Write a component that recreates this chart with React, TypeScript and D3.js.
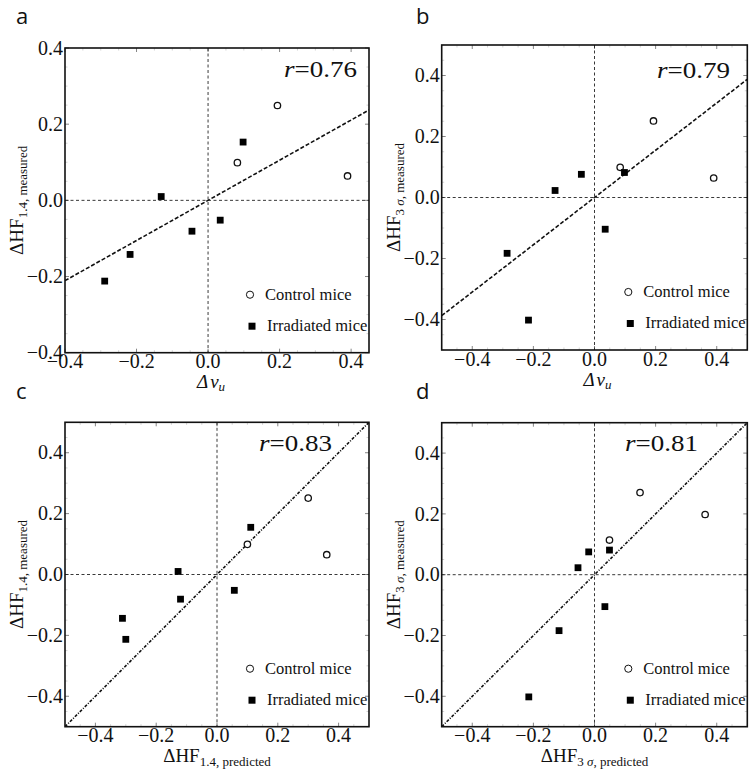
import React from 'react';
import * as d3 from 'd3';

// ---------- DATA ----------
const panelLetters = ['a', 'b', 'c', 'd'];
const rLabels = ['0.76', '0.79', '0.83', '0.81'];

// Panel a: Δν_u vs ΔHF1.4 measured
const aControlX = [0.194, 0.082, 0.39];
const aControlY = [0.249, 0.099, 0.064];
const aIrradX = [0.098, -0.131, -0.045, 0.034, -0.218, -0.289];
const aIrradY = [0.153, 0.01, -0.081, -0.052, -0.142, -0.212];

// Panel b: Δν_u vs ΔHF3σ measured
const bControlX = [0.193, 0.084, 0.39];
const bControlY = [0.251, 0.099, 0.064];
const bIrradX = [0.098, -0.043, -0.129, 0.035, -0.286, -0.216];
const bIrradY = [0.082, 0.076, 0.023, -0.104, -0.183, -0.402];

// Panel c: ΔHF1.4 predicted vs measured
const cControlX = [0.3, 0.1, 0.361];
const cControlY = [0.251, 0.099, 0.065];
const cIrradX = [0.111, -0.128, -0.12, 0.057, -0.311, -0.3];
const cIrradY = [0.155, 0.01, -0.081, -0.052, -0.144, -0.213];

// Panel d: ΔHF3σ predicted vs measured
const dControlX = [0.149, 0.362, 0.049];
const dControlY = [0.27, 0.198, 0.114];
const dIrradX = [0.049, -0.019, -0.054, 0.034, -0.116, -0.215];
const dIrradY = [0.081, 0.075, 0.023, -0.105, -0.184, -0.402];

const fitSlopes = [0.527, 0.775, 1, 1];
const xDomains: [number, number][] = [[-0.4, 0.45], [-0.5, 0.5], [-0.5, 0.5], [-0.5, 0.5]];
const yDomains: [number, number][] = [[-0.4, 0.4], [-0.5, 0.5], [-0.5, 0.5], [-0.5, 0.5]];
const majorTicks = [-0.4, -0.2, 0, 0.2, 0.4];
const legendLabels = ['Control mice', 'Irradiated mice'];

// ---------- LAYOUT ----------
const frames = [
  { left: 65, top: 48, right: 369, bottom: 352.7, rRight: 357, rBase: 77, rDash: 'dash' },
  { left: 441.7, top: 45, right: 747.3, bottom: 350, rRight: 730, rBase: 78, rDash: 'dash' },
  { left: 65, top: 422.3, right: 369, bottom: 726.7, rRight: 332, rBase: 451, rDash: 'dashdot' },
  { left: 441.7, top: 422.7, right: 747.3, bottom: 726.7, rRight: 698, rBase: 451, rDash: 'dashdot' },
];
const letterPos = [
  { x: 16, y: 24 },
  { x: 416, y: 24 },
  { x: 16, y: 399 },
  { x: 416, y: 399 },
];

const serif = "'Liberation Serif', 'Times New Roman', serif";
const sans = "'Open Sans', 'Liberation Sans', sans-serif";
const fmt = (v: number) => (Math.abs(v) < 1e-9 ? '0.0' : (v < 0 ? '\u2212' : '') + Math.abs(v).toFixed(1));

const panelData = [
  { cx: aControlX, cy: aControlY, ix: aIrradX, iy: aIrradY },
  { cx: bControlX, cy: bControlY, ix: bIrradX, iy: bIrradY },
  { cx: cControlX, cy: cControlY, ix: cIrradX, iy: cIrradY },
  { cx: dControlX, cy: dControlY, ix: dIrradX, iy: dIrradY },
];

function XLabel({ i, x, y }: { i: number; x: number; y: number }) {
  if (i < 2) {
    return (
      <text x={x} y={y} fontFamily={serif} fontSize={19} textAnchor="middle" fontStyle="italic" fill="#111">
        <tspan>Δ</tspan>
        <tspan dx={2}>ν</tspan>
        <tspan fontSize={13} dy={3}>u</tspan>
      </text>
    );
  }
  return (
    <text x={x} y={y} fontFamily={serif} fontSize={19} textAnchor="middle" fill="#111">
      <tspan>ΔHF</tspan>
      {i === 2 ? (
        <tspan fontSize={13} dy={4}>1.4, predicted</tspan>
      ) : (
        <>
          <tspan fontSize={13} dy={4}>3 </tspan>
          <tspan fontSize={13} fontStyle="italic">σ</tspan>
          <tspan fontSize={13}>, predicted</tspan>
        </>
      )}
    </text>
  );
}

function YLabel({ i, x, y }: { i: number; x: number; y: number }) {
  return (
    <text transform={`translate(${x},${y}) rotate(-90)`} fontFamily={serif} fontSize={19} textAnchor="middle" fill="#111">
      <tspan>ΔHF</tspan>
      {i === 0 || i === 2 ? (
        <tspan fontSize={13} dy={4}>1.4, measured</tspan>
      ) : (
        <>
          <tspan fontSize={13} dy={4}>3 </tspan>
          <tspan fontSize={13} fontStyle="italic">σ</tspan>
          <tspan fontSize={13}>, measured</tspan>
        </>
      )}
    </text>
  );
}

function Panel({ i }: { i: number }) {
  const f = frames[i];
  const xs = d3.scaleLinear().domain(xDomains[i]).range([f.left, f.right]);
  const ys = d3.scaleLinear().domain(yDomains[i]).range([f.bottom, f.top]);
  const d = panelData[i];
  const minorX = d3.range(Math.ceil(xDomains[i][0] / 0.05), Math.floor(xDomains[i][1] / 0.05) + 1).map((k) => k * 0.05);
  const minorY = d3.range(Math.ceil(yDomains[i][0] / 0.05), Math.floor(yDomains[i][1] / 0.05) + 1).map((k) => k * 0.05);
  const isMajor = (v: number) => majorTicks.some((m) => Math.abs(m - v) < 1e-6);
  const slope = fitSlopes[i];
  const line = d3.line<number>().x((v) => xs(v)).y((v) => ys(slope * v));
  const clipId = `clip${i}`;
  const cxMid = (f.left + f.right) / 2;
  const cyMid = (f.top + f.bottom) / 2;
  return (
    <g>
      <defs>
        <clipPath id={clipId}>
          <rect x={f.left} y={f.top} width={f.right - f.left} height={f.bottom - f.top} />
        </clipPath>
      </defs>
      {/* minor ticks */}
      {minorX.filter((v) => !isMajor(v)).map((v, k) => (
        <g key={'mx' + k} stroke="#c8c8c8" strokeWidth={0.8}>
          <line x1={xs(v)} x2={xs(v)} y1={f.bottom} y2={f.bottom - 2.5} />
          <line x1={xs(v)} x2={xs(v)} y1={f.top} y2={f.top + 2.5} />
        </g>
      ))}
      {minorY.filter((v) => !isMajor(v)).map((v, k) => (
        <g key={'my' + k} stroke="#c8c8c8" strokeWidth={0.8}>
          <line x1={f.left} x2={f.left + 2.5} y1={ys(v)} y2={ys(v)} />
          <line x1={f.right} x2={f.right - 2.5} y1={ys(v)} y2={ys(v)} />
        </g>
      ))}
      {majorTicks.map((v, k) => (
        <g key={'Mt' + k} stroke="#777" strokeWidth={0.9}>
          <line x1={xs(v)} x2={xs(v)} y1={f.bottom} y2={f.bottom - 4} />
          <line x1={xs(v)} x2={xs(v)} y1={f.top} y2={f.top + 4} />
          <line x1={f.left} x2={f.left + 4} y1={ys(v)} y2={ys(v)} />
          <line x1={f.right} x2={f.right - 4} y1={ys(v)} y2={ys(v)} />
        </g>
      ))}
      {/* zero lines and fit line */}
      <g clipPath={`url(#${clipId})`}>
        <line x1={xs(0)} x2={xs(0)} y1={f.top} y2={f.bottom} stroke="#222" strokeWidth={0.9} strokeDasharray="3,2.5" />
        <line x1={f.left} x2={f.right} y1={ys(0)} y2={ys(0)} stroke="#222" strokeWidth={0.9} strokeDasharray="3,2.5" />
        <path
          d={line(xDomains[i]) || ''}
          fill="none"
          stroke="#111"
          strokeWidth={1.6}
          strokeDasharray={f.rDash === 'dash' ? '4,2' : '3,1.5,1,1.5'}
        />
      </g>
      {/* frame */}
      <rect x={f.left} y={f.top} width={f.right - f.left} height={f.bottom - f.top} fill="none" stroke="#111" strokeWidth={1.6} />
      {/* points */}
      {d.cx.map((v, k) => (
        <circle key={'c' + k} cx={xs(v)} cy={ys(d.cy[k])} r={3.2} fill="#fff" stroke="#111" strokeWidth={1.3} />
      ))}
      {d.ix.map((v, k) => (
        <rect key={'s' + k} x={xs(v) - 3.4} y={ys(d.iy[k]) - 3.4} width={6.8} height={6.8} fill="#000" />
      ))}
      {/* tick labels */}
      {majorTicks.map((v, k) =>
        v >= xDomains[i][0] - 1e-9 && v <= xDomains[i][1] + 1e-9 ? (
          <text key={'xl' + k} x={xs(v)} y={f.bottom + 15.5} fontFamily={serif} fontSize={20} textAnchor="middle" fill="#111">
            {fmt(v)}
          </text>
        ) : null
      )}
      {majorTicks.map((v, k) => (
        <text key={'yl' + k} x={f.left - 2} y={ys(v)} dy="0.33em" fontFamily={serif} fontSize={20} textAnchor="end" fill="#111">
          {fmt(v)}
        </text>
      ))}
      {/* r label */}
      <text
        x={f.rRight - 73}
        y={f.rBase}
        fontFamily={serif}
        fontSize={23}
        textLength={73}
        lengthAdjust="spacingAndGlyphs"
        fill="#111"
      >
        <tspan fontStyle="italic">r</tspan>
        <tspan>={rLabels[i]}</tspan>
      </text>
      {/* legend */}
      <circle cx={f.right - 119} cy={f.bottom - 58} r={3.6} fill="#fff" stroke="#111" strokeWidth={1} />
      <rect x={f.right - 117 - 3.5} y={f.bottom - 26.5 - 3.5} width={7} height={7} fill="#000" />
      <text x={f.right - 104} y={f.bottom - 53} fontFamily={serif} fontSize={16.5} fill="#111">
        {legendLabels[0]}
      </text>
      <text x={f.right - 102} y={f.bottom - 22} fontFamily={serif} fontSize={16.5} fill="#111">
        {legendLabels[1]}
      </text>
      {/* axis titles */}
      <XLabel i={i} x={i < 2 ? xs(0) + 3 : cxMid} y={f.bottom + 35.5} />
      <YLabel i={i} x={f.left - 42} y={cyMid} />
      {/* panel letter */}
      <text x={letterPos[i].x} y={letterPos[i].y} fontFamily={sans} fontSize={22} fill="#111">
        {panelLetters[i]}
      </text>
    </g>
  );
}

export default function App() {
  return (
    <svg
      width={750}
      height={775}
      viewBox="0 0 750 775"
      style={{ position: 'absolute', left: 0, top: 0, background: '#fff', display: 'block' }}
    >
      <rect width={750} height={775} fill="#fff" />
      {[0, 1, 2, 3].map((i) => (
        <Panel key={i} i={i} />
      ))}
    </svg>
  );
}
